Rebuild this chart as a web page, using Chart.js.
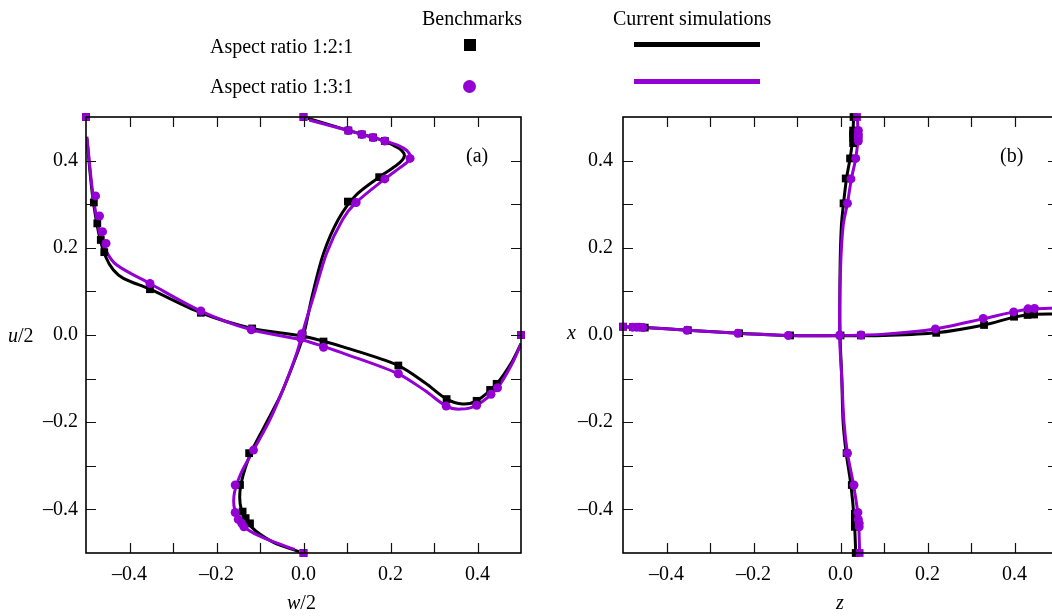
<!DOCTYPE html>
<html>
<head>
<meta charset="utf-8">
<script src="https://cdn.jsdelivr.net/npm/chart.js@4/dist/chart.umd.min.js"></script>
<style>
  html, body { margin: 0; padding: 0; background: #fff; }
  body { width: 1052px; height: 616px; overflow: hidden; position: relative; font-family: 'Liberation Serif', 'Times New Roman', serif; color: #000; }
  .abs { position: absolute; white-space: nowrap; font-size: 20px; line-height: 1; }
  #wrapA { position: absolute; left: 0; top: 0; width: 540px; height: 616px; }
  #wrapB { position: absolute; left: 530px; top: 0; width: 560px; height: 616px; }
  .swatch { position: absolute; }
</style>
</head>
<body>
<div id="wrapA"><canvas id="panelA"></canvas></div>
<div id="wrapB"><canvas id="panelB"></canvas></div>

<div class="abs" style="left:422px; top:8px;">Benchmarks</div>
<div class="abs" style="left:613px; top:8px;">Current simulations</div>
<div class="abs" style="left:210px; top:36px;">Aspect ratio 1:2:1</div>
<div class="abs" style="left:210px; top:76px;">Aspect ratio 1:3:1</div>
<div class="swatch" style="left:464px; top:39px; width:12px; height:12px; background:#000;"></div>
<div class="swatch" style="left:463px; top:80px; width:13px; height:13px; border-radius:50%; background:#9400d3;"></div>
<div class="swatch" style="left:634px; top:42px; width:126px; height:5px; background:#000;"></div>
<div class="swatch" style="left:634px; top:79px; width:126px; height:5px; background:#9400d3;"></div>

<div class="abs" style="left:466px; top:145px;">(a)</div>
<div class="abs" style="left:1000px; top:145px;">(b)</div>

<div class="abs" style="left:8px; top:325px;"><i>u</i>/2</div>
<div class="abs" style="left:287px; top:592px;"><i>w</i>/2</div>
<div class="abs" style="left:567px; top:322px;"><i>x</i></div>
<div class="abs" style="left:836px; top:592px;"><i>z</i></div>

<script>
// ---- panel (a): w/2 (x) vs u/2 (y) ----
// benchmarks, aspect ratio 1:2:1
const benchA121U = [[0,-0.5],[-0.123,-0.432],[-0.133,-0.42],[-0.14,-0.405],[-0.146,-0.344],[-0.125,-0.271],[-0.002,0.0],[0.102,0.306],[0.174,0.362],[0.187,0.445],[0.16,0.453],[0.134,0.46],[0.103,0.469],[0,0.5]]
const benchA121W = [[-0.5,0.5],[-0.482,0.304],[-0.474,0.256],[-0.466,0.218],[-0.458,0.19],[-0.353,0.105],[-0.236,0.051],[-0.118,0.015],[0.046,-0.015],[0.218,-0.07],[0.329,-0.147],[0.398,-0.151],[0.429,-0.126],[0.444,-0.112],[0.5,0]]
// benchmarks, aspect ratio 1:3:1
const benchA131U = [[0,-0.5],[-0.137,-0.44],[-0.142,-0.432],[-0.15,-0.423],[-0.157,-0.407],[-0.157,-0.344],[-0.115,-0.264],[-0.004,0.003],[0.121,0.304],[0.187,0.358],[0.245,0.405],[0.187,0.445],[0.16,0.453],[0.134,0.46],[0.103,0.469],[0,0.5]]
const benchA131W = [[-0.5,0.5],[-0.478,0.319],[-0.469,0.273],[-0.462,0.237],[-0.454,0.21],[-0.353,0.118],[-0.236,0.055],[-0.12,0.012],[-0.006,-0.008],[0.046,-0.028],[0.218,-0.089],[0.328,-0.163],[0.398,-0.161],[0.431,-0.136],[0.446,-0.121],[0.5,0]]
// simulations
const simA121U = [[-0.01,-0.497],[-0.07,-0.475],[-0.12,-0.44],[-0.143,-0.4],[-0.145,-0.35],[-0.125,-0.28],[-0.09,-0.21],[-0.054,-0.141],[-0.025,-0.07],[0,0],[0.02,0.09],[0.046,0.187],[0.08,0.265],[0.12,0.32],[0.174,0.362],[0.205,0.383],[0.224,0.398],[0.232,0.411],[0.226,0.423],[0.21,0.433],[0.187,0.445],[0.1,0.47],[0.01,0.497]]
const simA131U = [[-0.02,-0.492],[-0.08,-0.47],[-0.13,-0.445],[-0.155,-0.41],[-0.16,-0.37],[-0.145,-0.32],[-0.115,-0.264],[-0.08,-0.2],[-0.045,-0.12],[-0.015,-0.04],[0.005,0.03],[0.023,0.088],[0.053,0.187],[0.09,0.265],[0.121,0.304],[0.187,0.358],[0.222,0.384],[0.24,0.398],[0.245,0.41],[0.238,0.423],[0.22,0.434],[0.187,0.445],[0.103,0.469],[0.013,0.493]]
const simA121W = [[-0.498,0.451],[-0.485,0.32],[-0.47,0.23],[-0.455,0.18],[-0.437,0.149],[-0.414,0.13],[-0.353,0.105],[-0.236,0.051],[-0.118,0.015],[0,-0.003],[0.1,-0.03],[0.218,-0.07],[0.28,-0.11],[0.329,-0.147],[0.366,-0.158],[0.398,-0.151],[0.444,-0.112],[0.48,-0.06],[0.5,-0.02]]
const simA131W = [[-0.498,0.455],[-0.485,0.33],[-0.47,0.24],[-0.455,0.195],[-0.43,0.161],[-0.353,0.118],[-0.236,0.055],[-0.12,0.012],[0,-0.012],[0.1,-0.045],[0.218,-0.089],[0.28,-0.128],[0.328,-0.163],[0.36,-0.17],[0.398,-0.161],[0.446,-0.121],[0.48,-0.065],[0.5,-0.02]]

// ---- panel (b): z (x) vs x (y) ----
const benchB121V = [[0.035,-0.5],[0.033,-0.44],[0.033,-0.425],[0.033,-0.41],[0.026,-0.344],[0.014,-0.271],[0.007,0.302],[0.012,0.359],[0.022,0.405],[0.029,0.44],[0.029,0.453],[0.029,0.46],[0.029,0.469],[0.03,0.5]]
const benchB121H = [[-0.5,0.019],[-0.477,0.018],[-0.465,0.018],[-0.45,0.017],[-0.351,0.011],[-0.233,0.004],[-0.116,-0.001],[0,-0.001],[0.047,-0.001],[0.22,0.005],[0.33,0.023],[0.399,0.042],[0.43,0.046],[0.445,0.047],[0.5,0.048]]
const benchB131V = [[0.044,-0.5],[0.043,-0.44],[0.043,-0.432],[0.041,-0.423],[0.04,-0.407],[0.031,-0.344],[0.016,-0.271],[0.016,0.302],[0.024,0.358],[0.035,0.405],[0.041,0.445],[0.041,0.453],[0.041,0.46],[0.041,0.469],[0.038,0.5]]
const benchB131H = [[-0.5,0.019],[-0.478,0.018],[-0.469,0.018],[-0.462,0.018],[-0.454,0.017],[-0.353,0.011],[-0.236,0.004],[-0.12,-0.001],[-0.002,-0.001],[0.047,0.0],[0.218,0.014],[0.328,0.038],[0.398,0.053],[0.431,0.06],[0.446,0.061],[0.5,0.062]]
const simB121V = [[0.035,-0.5],[0.032,-0.43],[0.024,-0.344],[0.013,-0.27],[0.006,-0.2],[0.003,-0.1],[-0.001,0],[-0.001,0.15],[0.002,0.25],[0.007,0.302],[0.014,0.36],[0.022,0.405],[0.028,0.45],[0.03,0.5]]
const simB131V = [[0.044,-0.5],[0.041,-0.42],[0.03,-0.344],[0.016,-0.271],[0.008,-0.2],[0.003,-0.1],[-0.002,0],[0,0.15],[0.006,0.25],[0.016,0.302],[0.025,0.358],[0.035,0.405],[0.04,0.45],[0.039,0.5]]
const simB121H = [[-0.5,0.019],[-0.45,0.017],[-0.351,0.011],[-0.233,0.004],[-0.116,-0.001],[0,-0.002],[0.1,-0.001],[0.22,0.005],[0.33,0.023],[0.399,0.041],[0.44,0.047],[0.5,0.048]]
const simB131H = [[-0.5,0.019],[-0.45,0.017],[-0.353,0.011],[-0.236,0.004],[-0.12,-0.001],[0,-0.001],[0.1,0.002],[0.218,0.014],[0.328,0.037],[0.398,0.053],[0.44,0.06],[0.5,0.062]]

const axisMin = -0.5
const axisMax = 0.5
const tickStep = 0.1

const BLACK = '#000000'
const PURPLE = '#9400d3'
const FONT = { family: "'Liberation Serif', 'Times New Roman', serif", size: 20 }

const toXY = (pairs) => pairs.map(p => ({ x: p[0], y: p[1] }))

const tickText = (v) => {
  const r = Math.round(v * 10)
  if (r % 2 !== 0) return ''
  const s = Math.abs(r / 10).toFixed(1)
  return r < 0 ? '\u2013' + s : s
}

// points sitting on the box edges are drawn as squares
const onEdge = (ctx) => {
  const p = ctx.raw
  return p && (Math.abs(Math.abs(p.x) - 0.5) < 1e-6 || Math.abs(Math.abs(p.y) - 0.5) < 1e-6)
}

// Chart.js paints lower "order" on top, so lines get high numbers
const simLine = (pairs, color, order) => ({
  data: toXY(pairs),
  order,
  showLine: true,
  borderColor: color,
  borderWidth: 3,
  pointRadius: 0,
  tension: 0.3,
  fill: false
})

const benchMarks = (pairs, color, square, order) => ({
  data: toXY(pairs),
  order,
  showLine: false,
  backgroundColor: color,
  borderColor: color,
  borderWidth: 0,
  pointStyle: square ? 'rect' : (ctx) => onEdge(ctx) ? 'rect' : 'circle',
  pointRadius: square ? 5.5 : (ctx) => onEdge(ctx) ? 5.5 : 4.5,
  clip: false
})

// inward ticks on all four sides plus the frame
const frameTicks = {
  id: 'frameTicks',
  afterDatasetsDraw(chart) {
    const { ctx, chartArea: a, scales } = chart
    ctx.save()
    ctx.strokeStyle = '#111'
    ctx.lineWidth = 1.2
    const len = 10
    for (let i = 1; i < 10; i++) {
      const v = axisMin + i * tickStep
      const px = Math.round(scales.x.getPixelForValue(v)) + 0.5
      const py = Math.round(scales.y.getPixelForValue(v)) + 0.5
      ctx.beginPath()
      ctx.moveTo(px, a.bottom); ctx.lineTo(px, a.bottom - len)
      ctx.moveTo(px, a.top); ctx.lineTo(px, a.top + len)
      ctx.moveTo(a.left, py); ctx.lineTo(a.left + len, py)
      ctx.moveTo(a.right, py); ctx.lineTo(a.right - len, py)
      ctx.stroke()
    }
    ctx.strokeStyle = '#000'
    ctx.lineWidth = 1.6
    ctx.strokeRect(a.left, a.top, a.right - a.left, a.bottom - a.top)
    ctx.restore()
  }
}

const makePanel = (canvasId, datasets, yWidth, rightPad, yPad) => {
  return new Chart(document.getElementById(canvasId), {
    type: 'scatter',
    data: { datasets },
    options: {
      responsive: true,
      maintainAspectRatio: false,
      animation: false,
      events: [],
      layout: { padding: { top: 117, right: rightPad, left: 0, bottom: 0 } },
      plugins: { legend: { display: false }, tooltip: { enabled: false } },
      scales: {
        x: {
          type: 'linear',
          min: axisMin,
          max: axisMax,
          afterFit: (scale) => { scale.height = 63 },
          border: { display: false },
          grid: { display: false, drawTicks: false },
          ticks: { stepSize: tickStep, autoSkip: false, maxRotation: 0, padding: 10, color: '#000', font: FONT, callback: tickText }
        },
        y: {
          type: 'linear',
          min: axisMin,
          max: axisMax,
          afterFit: (scale) => { scale.width = yWidth },
          border: { display: false },
          grid: { display: false, drawTicks: false },
          ticks: { stepSize: tickStep, autoSkip: false, padding: yPad, color: '#000', font: FONT, callback: tickText }
        }
      }
    },
    plugins: [frameTicks]
  })
}

makePanel('panelA', [
  simLine(simA121U, BLACK, 8),
  simLine(simA121W, BLACK, 7),
  simLine(simA131U, PURPLE, 6),
  simLine(simA131W, PURPLE, 5),
  benchMarks(benchA121U, BLACK, true, 4),
  benchMarks(benchA121W, BLACK, true, 3),
  benchMarks(benchA131U, PURPLE, false, 2),
  benchMarks(benchA131W, PURPLE, false, 1)
], 86, 19, 8)

makePanel('panelB', [
  simLine(simB121V, BLACK, 8),
  simLine(simB121H, BLACK, 7),
  simLine(simB131V, PURPLE, 6),
  simLine(simB131H, PURPLE, 5),
  benchMarks(benchB121V, BLACK, true, 4),
  benchMarks(benchB121H, BLACK, true, 3),
  benchMarks(benchB131V, PURPLE, false, 2),
  benchMarks(benchB131H, PURPLE, false, 1)
], 93, 32, 10)
</script>
</body>
</html>
